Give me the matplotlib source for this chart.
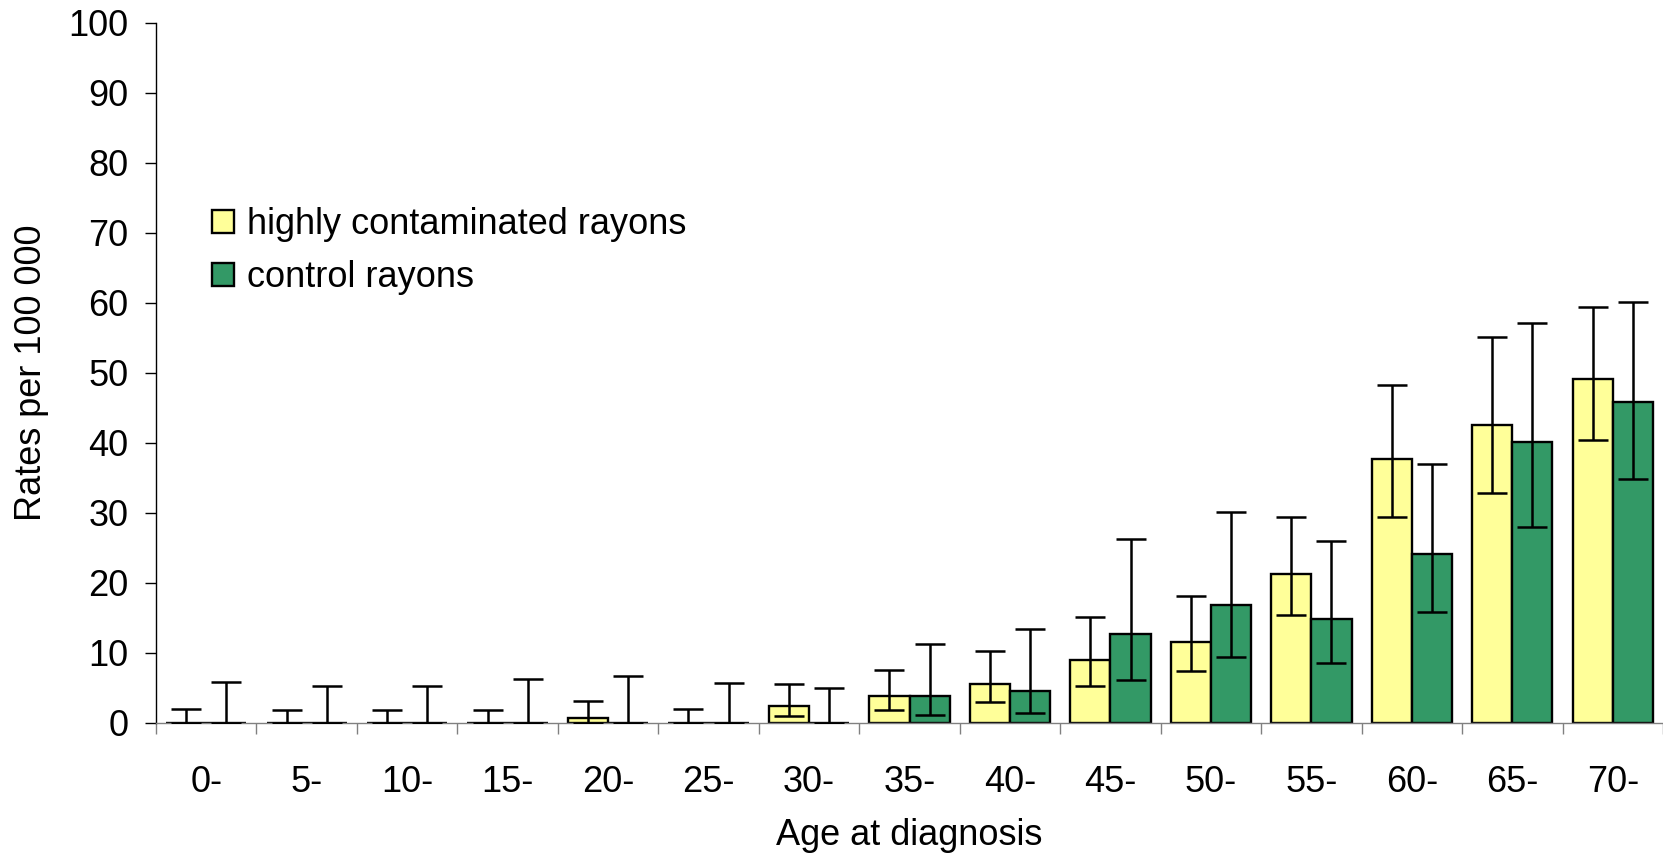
import numpy as np
import matplotlib
matplotlib.use("Agg")
import matplotlib.pyplot as plt

plt.rcParams['font.family'] = ['Liberation Sans', 'DejaVu Sans']

ages = ['0-', '5-', '10-', '15-', '20-', '25-', '30-', '35-', '40-', '45-',
        '50-', '55-', '60-', '65-', '70-']
high = [0, 0, 0, 0, 0.7, 0, 2.4, 3.9, 5.6, 9.0, 11.6, 21.3, 37.7, 42.6, 49.2]
high_lo = [0, 0, 0, 0, 0, 0, 1.0, 1.9, 3.0, 5.3, 7.4, 15.4, 29.4, 32.9, 40.5]
high_hi = [2.0, 1.8, 1.8, 1.9, 3.1, 2.0, 5.6, 7.6, 10.3, 15.1, 18.1, 29.5, 48.3, 55.1, 59.4]
ctrl = [0, 0, 0, 0, 0, 0, 0, 3.9, 4.6, 12.7, 16.9, 14.9, 24.1, 40.1, 45.8]
ctrl_lo = [0, 0, 0, 0, 0, 0, 0, 1.2, 1.5, 6.1, 9.5, 8.6, 15.8, 28.0, 34.8]
ctrl_hi = [5.8, 5.3, 5.3, 6.3, 6.7, 5.7, 5.0, 11.3, 13.4, 26.3, 30.2, 26.0, 37.0, 57.2, 60.1]

x = np.arange(len(ages))
w = 0.4

fig = plt.figure(figsize=(16.63, 8.56), dpi=100)
ax = fig.add_axes([156/1663, 133/856, 1 - 156/1663, 700/856])

high = np.array(high); ctrl = np.array(ctrl)
err_h = [high - np.array(high_lo), np.array(high_hi) - high]
err_c = [ctrl - np.array(ctrl_lo), np.array(ctrl_hi) - ctrl]

ax.bar(x - w/2, high, w, color='#FFFF99', edgecolor='black', linewidth=1.7,
       label='highly contaminated rayons', zorder=2)
ax.bar(x + w/2, ctrl, w, color='#339966', edgecolor='black', linewidth=1.7,
       label='control rayons', zorder=2)
ax.errorbar(x - w/2, high, yerr=err_h, fmt='none', ecolor='black',
            elinewidth=1.8, capsize=11, capthick=1.8, zorder=3)
ax.errorbar(x + w/2, ctrl, yerr=err_c, fmt='none', ecolor='black',
            elinewidth=1.8, capsize=11, capthick=1.8, zorder=3)

ax.set_ylim(0, 100)
ax.set_xlim(-0.5, 14.38)
ax.set_yticks(np.arange(0, 101, 10))
ax.set_xticks(x)
ax.set_xticklabels(ages)
ax.set_xticks(np.arange(-0.5, 15, 1), minor=True)
ax.tick_params(axis='x', which='major', length=0, pad=30, labelsize=26)
ax.tick_params(axis='x', which='minor', length=8, width=1, color='#808080')
ax.tick_params(axis='y', length=8, width=1, pad=12, labelsize=26)

for s in ['top', 'right']:
    ax.spines[s].set_visible(False)
ax.spines['left'].set_linewidth(1)
ax.spines['bottom'].set_linewidth(1)
ax.spines['bottom'].set_color('#808080')

ax.set_ylabel('Rates per 100 000', fontsize=26, labelpad=14)
ax.set_xlabel('Age at diagnosis', fontsize=26, labelpad=13)

ax.legend(loc='upper left', bbox_to_anchor=(212/1663, 1 - 207/856),
          bbox_transform=fig.transFigure, frameon=False, fontsize=26,
          handlelength=0.62, handleheight=0.62, handletextpad=0.35,
          labelspacing=0.5, borderpad=0, borderaxespad=0)

fig.savefig('out.png', dpi=100)
